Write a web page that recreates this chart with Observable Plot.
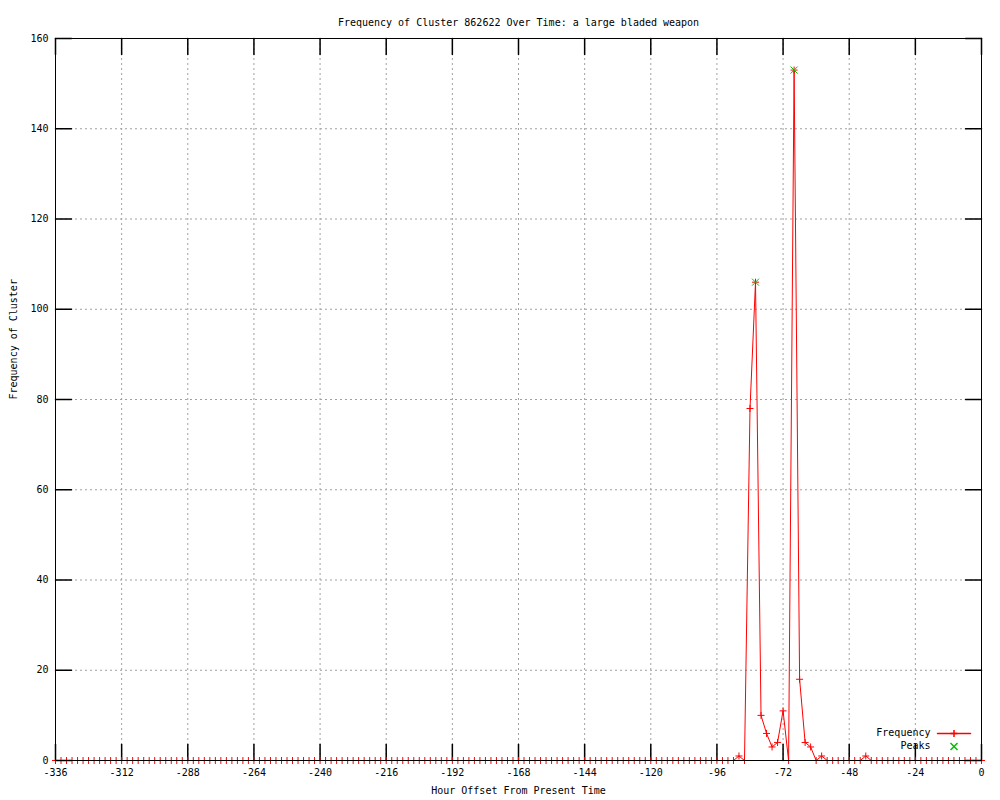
<!DOCTYPE html>
<html>
<head>
<meta charset="utf-8">
<script src="https://cdn.jsdelivr.net/npm/d3@7"></script>
<script src="https://cdn.jsdelivr.net/npm/@observablehq/plot@0.6"></script>
<style>
  html, body { margin: 0; padding: 0; background: #ffffff; }
  #chart svg { display: block; }
</style>
</head>
<body>
<div id="chart"></div>
<script>
// ---- Data ----
const titleText = "Frequency of Cluster 862622 Over Time: a large bladed weapon";
const xLabelText = "Hour Offset From Present Time";
const yLabelText = "Frequency of Cluster";

// Hours sampled every 2 hours from -336 to 0
const hours = d3.range(-336, 1, 2);
// Frequency at each hour (169 values)
const frequency = [
  0,0,0,0,0,0,0,0,0,0, 0,0,0,0,0,0,0,0,0,0,
  0,0,0,0,0,0,0,0,0,0, 0,0,0,0,0,0,0,0,0,0,
  0,0,0,0,0,0,0,0,0,0, 0,0,0,0,0,0,0,0,0,0,
  0,0,0,0,0,0,0,0,0,0, 0,0,0,0,0,0,0,0,0,0,
  0,0,0,0,0,0,0,0,0,0, 0,0,0,0,0,0,0,0,0,0,
  0,0,0,0,0,0,0,0,0,0, 0,0,0,0,0,0,0,0,0,0,
  0,0,0,0,
  1,0,78,106,10,6,3,4,11,0,153,18,4,3,0,1,
  0,0,0,0,0,0,0,
  1,
  0,0,0,0,0,0,0,0,0,0, 0,0,0,0,0,0,0,0,0,0, 0
];
const peakHours = [-82, -68];
const peakValues = [106, 153];

const xTicks = [-336, -312, -288, -264, -240, -216, -192, -168, -144, -120, -96, -72, -48, -24, 0];
const yTicks = [0, 20, 40, 60, 80, 100, 120, 140, 160];

const legendLabels = ["Frequency", "Peaks"];
const RED = "#ff0000";
const GREEN = "#00c000";

const series = hours.map((h, i) => ({hour: h, value: frequency[i]}));
const peaks = peakHours.map((h, i) => ({hour: h, value: peakValues[i]}));

// ---- Custom symbols ----
const plusSymbol = {draw(ctx, size) { const r = Math.sqrt(size / Math.PI);
  ctx.moveTo(-r, 0); ctx.lineTo(r, 0); ctx.moveTo(0, -r); ctx.lineTo(0, r); }};
const crossSymbol = {draw(ctx, size) { const r = Math.sqrt(size / Math.PI);
  ctx.moveTo(-r, -r); ctx.lineTo(r, r); ctx.moveTo(-r, r); ctx.lineTo(r, -r); }};
const tickShape = {draw(ctx, l) { ctx.moveTo(0, 0); ctx.lineTo(0, -l); }};

const FONT = "DejaVu Sans Mono";
const TICK = 16;

const chart = Plot.plot({
  width: 1000,
  height: 800,
  marginLeft: 55,
  marginRight: 19,
  marginTop: 38,
  marginBottom: 40,
  style: {fontFamily: FONT, fontSize: "10px", color: "#000", background: "#fff"},
  x: {domain: [-336, 0]},
  y: {domain: [0, 160]},
  marks: [
    Plot.gridX(xTicks, {stroke: "#a0a0a0", strokeOpacity: 1, strokeDasharray: "2,3"}),
    Plot.gridY(yTicks, {stroke: "#a0a0a0", strokeOpacity: 1, strokeDasharray: "2,3"}),
    // inward tick marks on all four sides
    Plot.vector(xTicks, {x: d => d, frameAnchor: "bottom", length: TICK, rotate: 0, anchor: "start", shape: tickShape, stroke: "black"}),
    Plot.vector(xTicks, {x: d => d, frameAnchor: "top", length: TICK, rotate: 180, anchor: "start", shape: tickShape, stroke: "black"}),
    Plot.vector(yTicks, {y: d => d, frameAnchor: "left", length: TICK, rotate: 90, anchor: "start", shape: tickShape, stroke: "black"}),
    Plot.vector(yTicks, {y: d => d, frameAnchor: "right", length: TICK, rotate: -90, anchor: "start", shape: tickShape, stroke: "black"}),
    // tick labels
    Plot.axisX(xTicks, {tickSize: 0, tickPadding: 8, tickFormat: d => String(d), label: null, fontSize: 10}),
    Plot.axisY(yTicks, {tickSize: 0, tickPadding: 7, tickFormat: d => String(d), label: null, fontSize: 10}),
    // data
    Plot.line(series, {x: "hour", y: "value", stroke: RED, strokeWidth: 1}),
    Plot.dot(series, {x: "hour", y: "value", symbol: plusSymbol, r: 3.5, stroke: RED, fill: "none", strokeWidth: 1}),
    Plot.dot(peaks, {x: "hour", y: "value", symbol: crossSymbol, r: 3.5, stroke: GREEN, fill: "none", strokeWidth: 1}),
    Plot.frame({stroke: "black"}),
    // titles
    Plot.text([titleText], {frameAnchor: "top", dy: -20, text: d => d, fontSize: 10}),
    Plot.text([xLabelText], {frameAnchor: "bottom", dy: 33, text: d => d, fontSize: 10}),
    Plot.text([yLabelText], {frameAnchor: "left", dx: -42, rotate: -90, text: d => d, fontSize: 10}),
    // legend (bottom-right, inside the frame)
    Plot.text([legendLabels[0]], {frameAnchor: "bottom-right", dx: -51, dy: -25, textAnchor: "end", text: d => d, fill: "black", fontSize: 10}),
    Plot.text([legendLabels[1]], {frameAnchor: "bottom-right", dx: -51, dy: -12, textAnchor: "end", text: d => d, fill: "black", fontSize: 10}),
    Plot.vector([0], {frameAnchor: "bottom-right", dx: -44, dy: -27, length: 33, rotate: 90, anchor: "start", shape: tickShape, stroke: RED}),
    Plot.dot([0], {frameAnchor: "bottom-right", dx: -27.5, dy: -27, symbol: plusSymbol, r: 3.5, stroke: RED, fill: "none"}),
    Plot.dot([0], {frameAnchor: "bottom-right", dx: -27.5, dy: -14, symbol: crossSymbol, r: 3.5, stroke: GREEN, fill: "none"})
  ]
});

document.getElementById("chart").appendChild(chart);
</script>
</body>
</html>
